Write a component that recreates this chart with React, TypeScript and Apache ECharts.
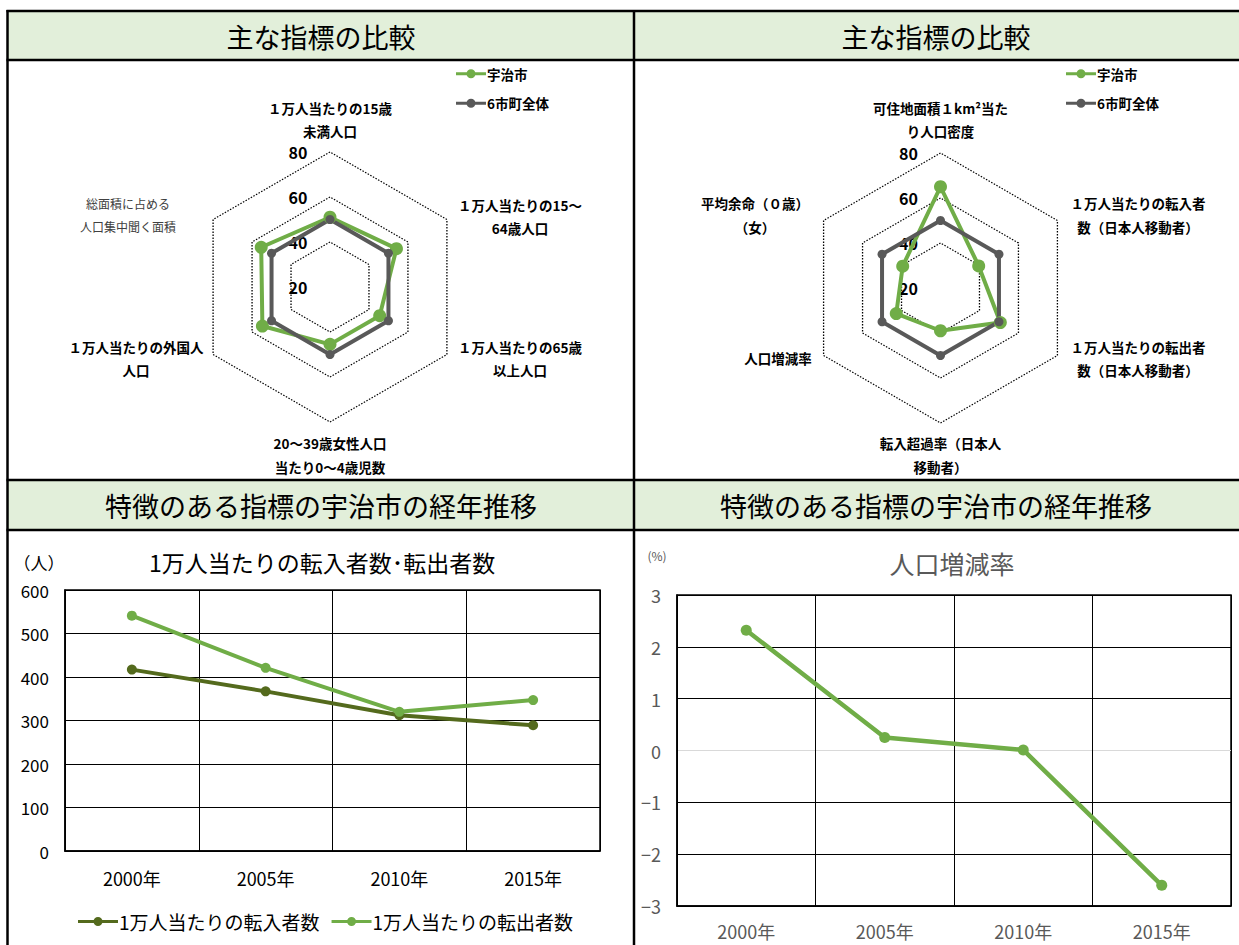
import React, { useEffect, useRef } from 'react';
import * as echarts from 'echarts';

const FF = "'Noto Sans CJK JP', 'Noto Sans', sans-serif";

// ---- data ----
const headerTop = '主な指標の比較';
const headerBottom = '特徴のある指標の宇治市の経年推移';
const seriesNames = ['宇治市', '6市町全体'];

// radar indicators listed clockwise from the top
const radarLeftNames = [
  '１万人当たりの15歳\n未満人口',
  '１万人当たりの15～\n64歳人口',
  '１万人当たりの65歳\n以上人口',
  '20～39歳女性人口\n当たり0～4歳児数',
  '１万人当たりの外国人\n人口',
  '総面積に占める\n人口集中聞く面積',
];
const radarLeftUji = [51, 54.1, 45.5, 45.5, 54.7, 55.3];
const radarLeftAll = [50, 50, 50, 50, 50, 50];

const radarRightNames = [
  '可住地面積１km²当た\nり人口密度',
  '１万人当たりの転入者\n数（日本人移動者）',
  '１万人当たりの転出者\n数（日本人移動者）',
  '転入超過率（日本人\n移動者）',
  '人口増減率',
  '平均余命（０歳）\n（女）',
];
const radarRightUji = [65, 39.6, 50.7, 39, 42.7, 39.4];
const radarRightAll = [50, 50, 50, 50, 50, 50];

const radarTicks = [20, 40, 60, 80];
const radarMin = 20;
const radarMax = 80;

const years = ['2000年', '2005年', '2010年', '2015年'];
const flowNames = ['1万人当たりの転入者数', '1万人当たりの転出者数'];
const inflow = [417, 367, 312, 289];
const outflow = [541, 421, 320, 347];
const popChangeName = '人口増減率';
const popChange = [2.32, 0.25, 0.01, -2.6];
const popTicksColors = ['#000', '#000', '#000', '#d9d9d9', '#000', '#000', '#000'];

// ---- layout ----
const GREEN = '#70AD47';
const GRAY = '#595959';
const OLIVE = '#546A1D';
const R = 135;
const leftC = [330, 287];
const rightC = [940.5, 288];
// label block centres, relative to radar centre, clockwise from top
const leftLabelOff = [[0, -167.5], [190, -70.5], [190, 71.5], [0, 168], [-194, 71.5], [-202, -72]];
const rightLabelOff = [[0, -168.5], [197.5, -73], [197.5, 70.5], [0, 167], [-162.5, 70], [-185.5, -73]];

function toEc<T>(arr: T[]): T[] {
  // ECharts places radar indicators counter-clockwise; reorder clockwise list
  return [arr[0], ...arr.slice(1).reverse()];
}

const LEGEND_ICON = 'path://M0,3.5H30V6.5H0Z M15,0.5A4.5,4.5,0,1,1,15,9.5A4.5,4.5,0,1,1,15,0.5Z';
const LEGEND_ICON2 = 'path://M0,3.5H40V6.5H0Z M20,0.5A4.5,4.5,0,1,1,20,9.5A4.5,4.5,0,1,1,20,0.5Z';

export default function App() {
  const ref = useRef<HTMLDivElement>(null);
  useEffect(() => {
    if (!ref.current) return;
    const chart = echarts.init(ref.current, undefined, { renderer: 'svg' });

    const graphics: any[] = [];
    graphics.push({ type: 'rect', silent: true, shape: { x: 8, y: 11, width: 1231, height: 49 }, style: { fill: '#E2EFDA' } });
    graphics.push({ type: 'rect', silent: true, shape: { x: 8, y: 480, width: 1231, height: 50 }, style: { fill: '#E2EFDA' } });
    [11, 60, 480, 530].forEach((y) =>
      graphics.push({ type: 'line', silent: true, shape: { x1: 6.5, y1: y, x2: 1239, y2: y }, style: { stroke: '#000', lineWidth: 2.5 } })
    );
    [7.5, 634].forEach((x) =>
      graphics.push({ type: 'line', silent: true, shape: { x1: x, y1: 10, x2: x, y2: 945 }, style: { stroke: '#000', lineWidth: 2.5 } })
    );
    [[321, 36, headerTop], [936, 36, headerTop], [321, 505, headerBottom], [936, 505, headerBottom]].forEach(([x, y, t]) =>
      graphics.push({
        type: 'text', silent: true, x, y,
        style: { text: t, fill: '#000', fontSize: 27, fontFamily: FF, align: 'center', verticalAlign: 'middle' },
      })
    );
    const pushRadarLabels = (c: number[], names: string[], offs: number[][], smallIdx: number) => {
      names.forEach((n, i) => {
        const small = i === smallIdx;
        graphics.push({
          type: 'text', silent: true, x: c[0] + offs[i][0], y: c[1] + offs[i][1],
          style: {
            text: n, fill: small ? '#404040' : '#000', fontSize: small ? 12 : 13.5,
            fontWeight: small ? 'normal' : 'bold', fontFamily: FF, align: 'center',
            verticalAlign: 'middle', lineHeight: 23.5,
          },
        });
      });
      radarTicks.forEach((v) => {
        graphics.push({
          type: 'text', silent: true, x: c[0] - 32, y: c[1] - ((v - radarMin) / (radarMax - radarMin)) * R,
          style: { text: String(v), fill: '#000', fontSize: 16, fontWeight: 'bold', fontFamily: FF, align: 'center', verticalAlign: 'middle' },
        });
      });
    };
    pushRadarLabels(leftC, radarLeftNames, leftLabelOff, 5);
    pushRadarLabels(rightC, radarRightNames, rightLabelOff, -1);
    graphics.push({ type: 'text', silent: true, x: 39, y: 562, style: { text: '（人）', fill: '#000', fontSize: 17, fontFamily: FF, align: 'center', verticalAlign: 'middle' } });
    graphics.push({ type: 'text', silent: true, x: 657, y: 555, style: { text: '(%)', fill: GRAY, fontSize: 12, fontFamily: FF, align: 'center', verticalAlign: 'middle' } });

    const radarBase = (c: number[], names: string[]) => ({
      center: c,
      radius: R,
      startAngle: 90,
      shape: 'polygon',
      splitNumber: 3,
      indicator: toEc(names).map((n) => ({ name: n, min: radarMin, max: radarMax })),
      axisName: { show: false },
      axisLine: { show: false },
      axisTick: { show: false },
      axisLabel: { show: false },
      splitArea: { show: false },
      splitLine: { lineStyle: { color: '#000', type: [1.5, 1.5], width: 1.3 } },
    });

    const radarSeries = (idx: number, uji: number[], all: number[]) => ({
      type: 'radar',
      radarIndex: idx,
      data: [
        {
          name: seriesNames[0], value: toEc(uji), symbol: 'circle', symbolSize: 13,
          lineStyle: { color: GREEN, width: 4 }, itemStyle: { color: GREEN },
        },
        {
          name: seriesNames[1], value: toEc(all), symbol: 'circle', symbolSize: 9,
          lineStyle: { color: GRAY, width: 4 }, itemStyle: { color: GRAY },
        },
      ],
    });

    const radarLegend = (left: number) => ({
      data: seriesNames, left, top: 67, orient: 'vertical', itemGap: 16, itemWidth: 30, itemHeight: 10,
      icon: LEGEND_ICON, padding: 0,
      textStyle: { fontSize: 13.5, fontWeight: 'bold', color: '#000', fontFamily: FF, padding: [0, 0, 0, -4] },
    });

    const option: any = {
      animation: false,
      textStyle: { fontFamily: FF },
      graphic: graphics,
      title: [
        { text: '1万人当たりの転入者数･転出者数', left: 322, top: 550, textAlign: 'center', padding: 0, textStyle: { fontSize: 23, fontWeight: 'normal', color: '#000', fontFamily: FF } },
        { text: '人口増減率', left: 952, top: 550, textAlign: 'center', padding: 0, textStyle: { fontSize: 25, fontWeight: 'normal', color: GRAY, fontFamily: FF } },
      ],
      legend: [
        radarLegend(456),
        radarLegend(1066),
        {
          data: flowNames, left: 78, top: 912, orient: 'horizontal', itemGap: 12, itemWidth: 40, itemHeight: 10,
          icon: LEGEND_ICON2, padding: 0,
          textStyle: { fontSize: 19, color: '#000', fontFamily: FF, padding: [0, 0, 0, -4] },
        },
      ],
      radar: [radarBase(leftC, radarLeftNames), radarBase(rightC, radarRightNames)],
      grid: [
        { left: 65, top: 590, width: 535, height: 261, show: true, borderColor: '#000', borderWidth: 1.5, backgroundColor: 'transparent' },
        { left: 677, top: 595, width: 554, height: 311, show: true, borderColor: '#000', borderWidth: 1.5, backgroundColor: 'transparent' },
      ],
      xAxis: [
        {
          gridIndex: 0, type: 'category', data: years, boundaryGap: true,
          axisLine: { onZero: false, lineStyle: { color: '#000', width: 1.5 } },
          axisTick: { show: false },
          axisLabel: { color: '#000', fontSize: 18, margin: 18, fontFamily: FF },
          splitLine: { show: true, lineStyle: { color: '#000', width: 1 } },
        },
        {
          gridIndex: 1, type: 'category', data: years, boundaryGap: true,
          axisLine: { onZero: false, lineStyle: { color: '#000', width: 1.5 } },
          axisTick: { show: false },
          axisLabel: { color: GRAY, fontSize: 18, margin: 16, fontFamily: FF },
          splitLine: { show: true, lineStyle: { color: '#000', width: 1 } },
        },
      ],
      yAxis: [
        {
          gridIndex: 0, type: 'value', min: 0, max: 600, interval: 100,
          axisLine: { show: true, lineStyle: { color: '#000', width: 1.5 } },
          axisTick: { show: false },
          axisLabel: { color: '#000', fontSize: 17, margin: 16, fontFamily: FF },
          splitLine: { show: true, lineStyle: { color: '#000', width: 1 } },
        },
        {
          gridIndex: 1, type: 'value', min: -3, max: 3, interval: 1,
          axisLine: { show: true, lineStyle: { color: '#000', width: 1.5 } },
          axisTick: { show: false },
          axisLabel: {
            color: GRAY, fontSize: 18, margin: 16, fontFamily: FF,
            formatter: (v: number) => (v < 0 ? '−' + Math.abs(v) : String(v)),
          },
          splitLine: { show: true, lineStyle: { color: popTicksColors, width: 1.2 } },
        },
      ],
      series: [
        radarSeries(0, radarLeftUji, radarLeftAll),
        radarSeries(1, radarRightUji, radarRightAll),
        {
          name: flowNames[0], type: 'line', xAxisIndex: 0, yAxisIndex: 0, data: inflow,
          symbol: 'circle', symbolSize: 10, color: OLIVE,
          lineStyle: { color: OLIVE, width: 4 }, itemStyle: { color: OLIVE },
        },
        {
          name: flowNames[1], type: 'line', xAxisIndex: 0, yAxisIndex: 0, data: outflow,
          symbol: 'circle', symbolSize: 10, color: GREEN,
          lineStyle: { color: GREEN, width: 4 }, itemStyle: { color: GREEN },
        },
        {
          name: popChangeName, type: 'line', xAxisIndex: 1, yAxisIndex: 1, data: popChange,
          symbol: 'circle', symbolSize: 11, color: GREEN,
          lineStyle: { color: GREEN, width: 4.5 }, itemStyle: { color: GREEN },
        },
      ],
    };
    chart.setOption(option);
    return () => chart.dispose();
  }, []);

  return (
    <div
      ref={ref}
      style={{ position: 'absolute', left: 0, top: 0, width: 1239, height: 945, background: '#fff' }}
    />
  );
}
